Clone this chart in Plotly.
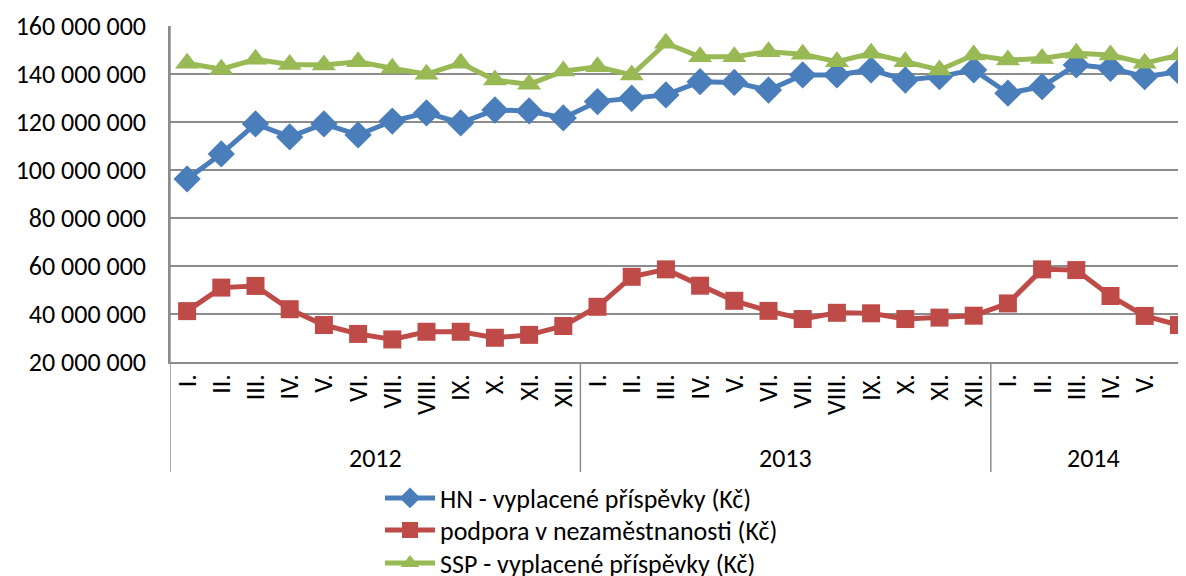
import plotly.graph_objects as go

years = ["2012", "2013", "2014"]
months_per_year = [12, 12, 6]
month_labels = ["I.", "II.", "III.", "IV.", "V.", "VI.", "VII.", "VIII.", "IX.", "X.", "XI.", "XII."]

hn = [96.3, 106.7, 119.2, 113.8, 119.2, 114.6, 120.4, 123.8, 119.6, 125.0, 124.6, 121.7,
      128.5, 129.9, 131.3, 136.8, 136.5, 133.3, 139.6, 139.6, 141.7, 137.5, 138.9, 141.7,
      132.0, 134.7, 143.8, 142.4, 138.9, 141.0]
podpora = [41.2, 51.0, 51.7, 42.0, 35.4, 31.7, 29.4, 32.6, 32.6, 30.1, 31.3, 35.0,
           43.0, 55.5, 58.6, 51.8, 45.5, 41.3, 37.9, 40.5, 40.3, 37.9, 38.5, 39.3,
           44.4, 58.6, 58.3, 47.5, 39.2, 35.4]
ssp = [144.5, 142.0, 146.1, 144.0, 143.8, 145.1, 142.4, 139.9, 144.5, 137.5, 135.7, 141.2,
       143.0, 139.6, 152.8, 147.2, 147.2, 149.3, 148.2, 145.1, 148.6, 145.1, 141.7, 147.9,
       145.8, 146.5, 148.6, 147.9, 144.5, 147.9]

series_names = ["HN - vyplacené příspěvky (Kč)", "podpora v nezaměstnanosti (Kč)", "SSP - vyplacené příspěvky (Kč)"]
colors = ["#4A7EBB", "#BE4B48", "#98B954"]
symbols = ["diamond", "square", "triangle-up"]
msizes = [21, 18, 21]

# category labels
tick_text = []
for n in months_per_year:
    tick_text += month_labels[:n]
idx = list(range(len(tick_text)))

# page body has an 8px margin; the figure is laid out to compensate
OFF = 8
W, H = 1186 - OFF, 576 - OFF
ml, mt = 170 - OFF, 26 - OFF
plot_h = 336
mb = H - mt - plot_h
cat_px = 34.2
plot_w = W - ml

font_family = "Carlito, Calibri, Liberation Sans, Arial, sans-serif"
fs = 26
grid_col = "#8C8C8C"

def py(page_px):
    return (OFF + mt + plot_h - page_px) / plot_h

def pxx(page_px):
    return (page_px - OFF - ml) / plot_w

legend_keys = ["legend", "legend2", "legend3"]
legend_y = [498, 530, 563]

fig = go.Figure()
for vals, name, c, s, ms, lk in zip([hn, podpora, ssp], series_names, colors, symbols, msizes, legend_keys):
    fig.add_trace(go.Scatter(
        x=idx, y=[v * 1e6 for v in vals], name=name, mode="lines+markers",
        line=dict(color=c, width=5), marker=dict(symbol=s, size=ms, color=c),
        legend=lk,
    ))

# group separators and year labels
start = 0
boundaries = [-0.5]
for yname, n in zip(years, months_per_year):
    center = start + (n - 1) / 2
    fig.add_annotation(x=center, y=py(458), xref="x", yref="paper", text=yname,
                       showarrow=False, font=dict(size=fs, color="#000000", family=font_family),
                       yanchor="middle")
    start += n
    boundaries.append(start - 0.5)
for b in boundaries[:-1]:
    fig.add_shape(type="line", xref="x", yref="paper", x0=b, x1=b, y0=1 if b < 0 else 0, y1=py(472),
                  line=dict(color=grid_col, width=1.5))

legend_layout = {}
for lk, ly in zip(legend_keys, legend_y):
    legend_layout[lk] = dict(x=pxx(380), y=py(ly), xanchor="left", yanchor="middle",
                             font=dict(size=fs, family=font_family, color="#000000"),
                             bgcolor="rgba(0,0,0,0)", itemwidth=50)

fig.update_layout(
    width=W, height=H,
    margin=dict(l=ml, r=0, t=mt, b=mb, autoexpand=False),
    plot_bgcolor="white", paper_bgcolor="white",
    separators=". ",
    font=dict(family=font_family, size=fs, color="#000000"),
    showlegend=True,
    **legend_layout,
)
fig.update_xaxes(
    range=[-0.5, -0.5 + plot_w / cat_px],
    tickmode="array", tickvals=idx, ticktext=tick_text, tickangle=-90,
    showgrid=False, zeroline=False, showline=True, linecolor=grid_col, linewidth=1.5,
    ticks="", tickfont=dict(size=fs, family=font_family),
)
fig.update_yaxes(
    range=[20e6, 160e6], dtick=20e6, tick0=0, tickformat=",d",
    showgrid=True, gridcolor=grid_col, gridwidth=1.5, zeroline=False,
    showline=True, linecolor=grid_col, linewidth=1.5, ticks="",
    ticklabelstandoff=17, tickfont=dict(size=fs, family=font_family),
)

fig.write_html("out.html")
